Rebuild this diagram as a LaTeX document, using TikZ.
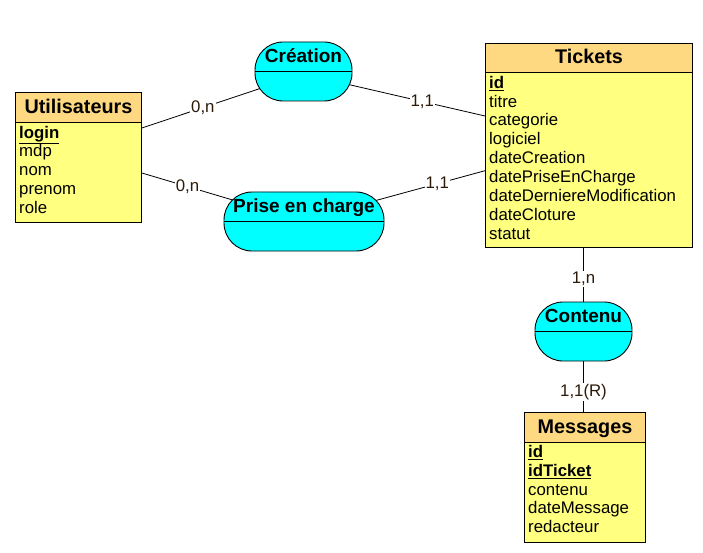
\documentclass[tikz,border=0pt]{standalone}
\usepackage{fontspec}
\setmainfont{Liberation Sans}
\usetikzlibrary{calc}
\definecolor{entBody}{HTML}{FFFF80}
\definecolor{entHead}{HTML}{FFD982}
\definecolor{relFill}{HTML}{00FFFF}
\definecolor{cardText}{HTML}{2B1A08}
\pgfdeclarelayer{bg}
\pgfsetlayers{bg,main}
\begin{document}
\begin{tikzpicture}[x=1pt,y=-1pt,
  ent/.style={draw=black, fill=entBody, line width=0.9pt, inner sep=0, anchor=north west},
  headbox/.style={draw=black, fill=entHead, line width=0.9pt},
  enttitle/.style={font=\bfseries\fontsize{19.8}{22}\selectfont, anchor=base, inner sep=0},
  attr/.style={font=\fontsize{16.8}{19}\selectfont, anchor=base west, inner sep=0},
  rel/.style={draw=black, fill=relFill, rounded corners=28pt, line width=0.9pt, inner sep=0},
  reltitle/.style={font=\bfseries\fontsize{19}{21}\selectfont, anchor=base, inner sep=0},
  card/.style={font=\fontsize{16.8}{19}\selectfont, text=cardText, fill=white, inner sep=1pt},
  link/.style={draw=black, line width=0.8pt}]
\useasboundingbox (0,0) rectangle (703,553);

% ---------- entities ----------
\node[ent, minimum width=126, minimum height=130] (util) at (15,92) {};
\draw[headbox] (util.north west) rectangle ($(util.north east)+(0,30)$);
\node[enttitle] (utilT) at ($(util.north)+(0,21.3)$) {Utilisateurs};
\node[attr] (u1) at (19,138.2) {\underline{\textbf{login}}};
\node[attr] (u2) at (19,157.0) {mdp};
\node[attr] (u3) at (19,175.8) {nom};
\node[attr] (u4) at (19,194.6) {prenom};
\node[attr] (u5) at (19,213.4) {role};

\node[ent, minimum width=207, minimum height=204] (tickets) at (485,43) {};
\draw[headbox] (tickets.north west) rectangle ($(tickets.north east)+(0,29)$);
\node[enttitle] (ticketsT) at ($(tickets.north)+(0,20.5)$) {Tickets};
\node[attr] (t1) at (489,88.2) {\underline{\textbf{id}}};
\node[attr] (t2) at (489,107.1) {titre};
\node[attr] (t3) at (489,126.0) {categorie};
\node[attr] (t4) at (489,144.9) {logiciel};
\node[attr] (t5) at (489,163.8) {dateCreation};
\node[attr] (t6) at (489,182.7) {datePriseEnCharge};
\node[attr] (t7) at (489,201.6) {dateDerniereModification};
\node[attr] (t8) at (489,220.5) {dateCloture};
\node[attr] (t9) at (489,239.4) {statut};

\node[ent, minimum width=121, minimum height=130] (messages) at (524,412) {};
\draw[headbox] (messages.north west) rectangle ($(messages.north east)+(0,30)$);
\node[enttitle] (messagesT) at ($(messages.north)+(0,21.8)$) {Messages};
\node[attr] (m1) at (528,457.5) {\underline{\textbf{id}}};
\node[attr] (m2) at (528,476.3) {\underline{\textbf{idTicket}}};
\node[attr] (m3) at (528,495.0) {contenu};
\node[attr] (m4) at (528,513.8) {dateMessage};
\node[attr] (m5) at (528,532.5) {redacteur};

% ---------- relationships ----------
\node[rel, minimum width=97, minimum height=59] (creation) at (303.5,71.5) {};
\draw[line width=0.9pt] (creation.west) -- (creation.east);
\node[reltitle] (creationT) at ($(creation.center)+(0,-8.5)$) {Création};

\node[rel, minimum width=160, minimum height=59] (prise) at (304,221.5) {};
\draw[line width=0.9pt] (prise.west) -- (prise.east);
\node[reltitle] (priseT) at ($(prise.center)+(0,-8.8)$) {Prise en charge};

\node[rel, minimum width=97, minimum height=59] (contenu) at (583.5,331.5) {};
\draw[line width=0.9pt] (contenu.west) -- (contenu.east);
\node[reltitle] (contenuT) at ($(contenu.center)+(0,-9.2)$) {Contenu};

% ---------- connectors ----------
\begin{pgfonlayer}{bg}
\fill[white] (0,0) rectangle (703,553);
\draw[link] ($(util.north east)+(0,36)$) -- node[card,pos=0.51] (c1) {0,n} ($(creation.center)+(-42,16.5)$);
\draw[link] ($(creation.center)+(45,13)$) -- node[card,pos=0.54] (c2) {1,1} ($(tickets.north west)+(0,73)$);
\draw[link] ($(util.north east)+(0,81)$) -- node[card,pos=0.49] (c3) {0,n} ($(prise.center)+(-69,-20.8)$);
\draw[link] ($(prise.center)+(70,-20.5)$) -- node[card,pos=0.57] (c4) {1,1} ($(tickets.north west)+(0,127.7)$);
\draw[link] (tickets.south -| contenu.north) -- node[card,pos=0.58] (c5) {1,n} (contenu.north);
\draw[link] (contenu.south) -- node[card,pos=0.6] (c6) {1,1(R)} (messages.north -| contenu.south);
\end{pgfonlayer}
\end{tikzpicture}
\end{document}
